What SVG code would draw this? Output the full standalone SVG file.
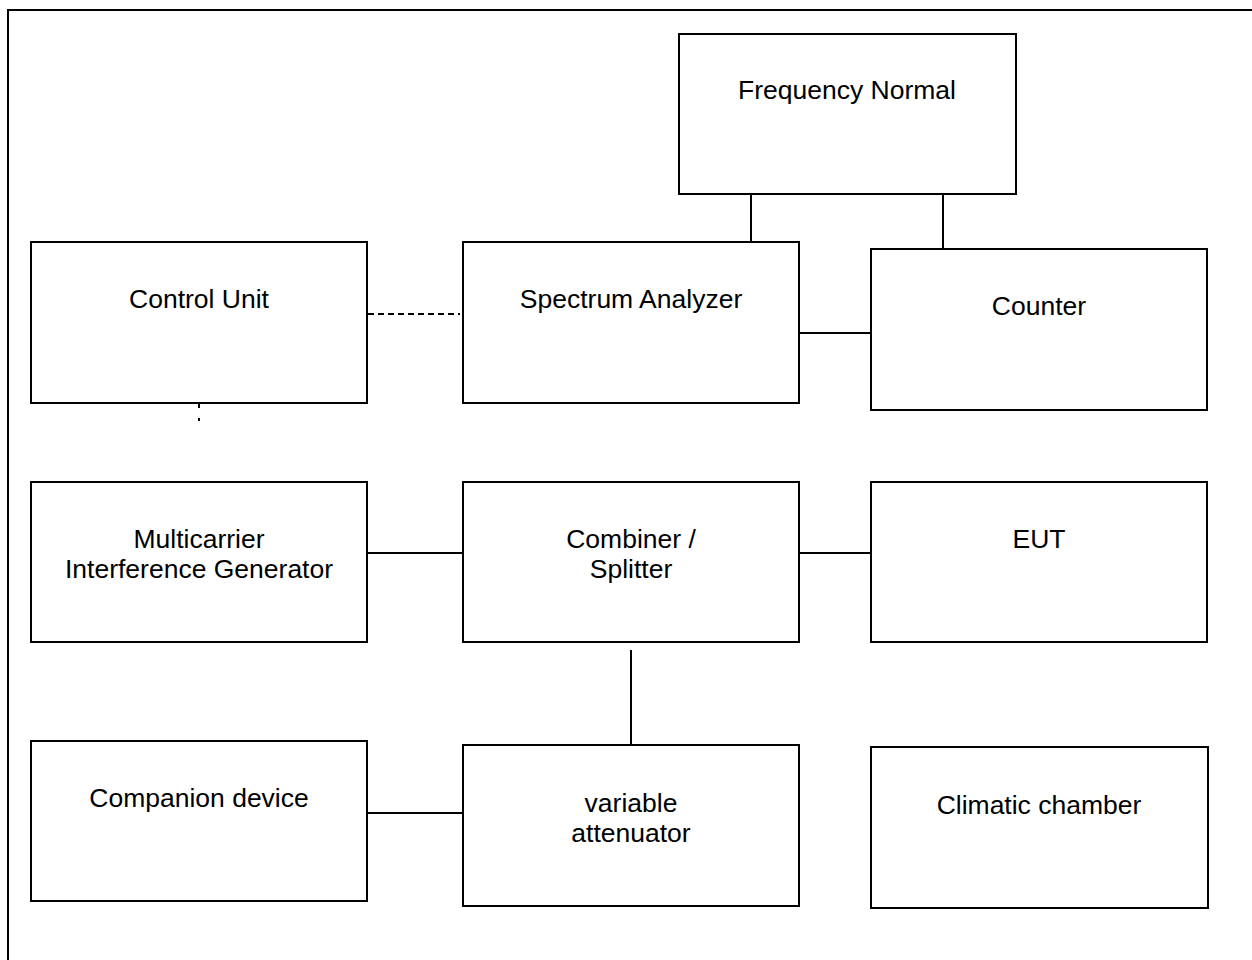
<svg xmlns="http://www.w3.org/2000/svg" width="1252" height="960" viewBox="0 0 1252 960">
<style>
.box{fill:#fff;stroke:#000;stroke-width:2}
.ln{stroke:#000;stroke-width:2;fill:none}
.dash{stroke:#000;stroke-width:2;fill:none;stroke-dasharray:6 4}
text{font-family:"Liberation Sans",Arial,sans-serif;font-size:26.5px;fill:#000;text-anchor:middle}
</style>
<rect x="0" y="0" width="1252" height="960" fill="#fff"/>
<path class="ln" d="M8 970 V10 H1262"/>
<g id="connectors">
<path class="ln" d="M751 194 V242"/>
<path class="ln" d="M943 194 V249"/>
<path class="ln" d="M799 333 H871"/>
<path class="dash" d="M368 314 H460"/>
<path class="ln" d="M199 403 V408 M199 418 V421"/>
<path class="ln" d="M367 553 H463"/>
<path class="ln" d="M799 553 H871"/>
<path class="ln" d="M631 650 V745"/>
<path class="ln" d="M367 813 H463"/>
</g>
<g id="frequency-normal"><rect class="box" x="679" y="34" width="337" height="160"/><text x="847" y="99">Frequency Normal</text></g>
<g id="control-unit"><rect class="box" x="31" y="242" width="336" height="161"/><text x="199" y="308">Control Unit</text></g>
<g id="spectrum-analyzer"><rect class="box" x="463" y="242" width="336" height="161"/><text x="631" y="308">Spectrum Analyzer</text></g>
<g id="counter"><rect class="box" x="871" y="249" width="336" height="161"/><text x="1039" y="315">Counter</text></g>
<g id="multicarrier"><rect class="box" x="31" y="482" width="336" height="160"/><text x="199" y="548">Multicarrier</text><text x="199" y="578">Interference Generator</text></g>
<g id="combiner"><rect class="box" x="463" y="482" width="336" height="160"/><text x="631" y="548">Combiner /</text><text x="631" y="578">Splitter</text></g>
<g id="eut"><rect class="box" x="871" y="482" width="336" height="160"/><text x="1039" y="548">EUT</text></g>
<g id="companion"><rect class="box" x="31" y="741" width="336" height="160"/><text x="199" y="807">Companion device</text></g>
<g id="attenuator"><rect class="box" x="463" y="745" width="336" height="161"/><text x="631" y="812">variable</text><text x="631" y="842">attenuator</text></g>
<g id="climatic"><rect class="box" x="871" y="747" width="337" height="161"/><text x="1039" y="814">Climatic chamber</text></g>
</svg>
